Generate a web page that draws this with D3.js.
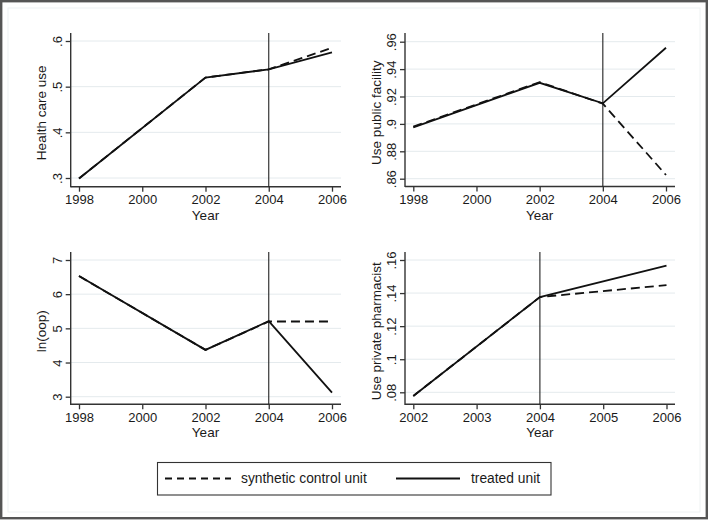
<!DOCTYPE html>
<html>
<head>
<meta charset="utf-8">
<script src="https://cdn.jsdelivr.net/npm/d3@7"></script>
<style>
  body { margin: 0; background: #fff; }
  svg { display: block; font-family: "Liberation Sans", Arial, sans-serif; }
</style>
</head>
<body>
<svg id="chart" width="709" height="521"></svg>
<script>
// data
var yearsA = [1998, 2002, 2004, 2006];
var yearsB = [2002, 2004, 2006];
var xTicksA = [1998, 2000, 2002, 2004, 2006];
var xTicksB = [2002, 2003, 2004, 2005, 2006];

var healthTreated = [0.299, 0.520, 0.538, 0.575];
var healthSynth   = [0.299, 0.520, 0.538, 0.585];
var publicTreated = [0.8975, 0.930, 0.915, 0.9556];
var publicSynth   = [0.8980, 0.9305, 0.9148, 0.8627];
var oopTreated    = [6.53, 4.37, 5.21, 3.12];
var oopSynth      = [6.53, 4.37, 5.20, 5.20];
var pharmTreated  = [0.0778, 0.1376, 0.1566];
var pharmSynth    = [0.0778, 0.1376, 0.1448];

var yTicks1 = [0.3, 0.4, 0.5, 0.6];
var yTicks2 = [0.86, 0.88, 0.90, 0.92, 0.94, 0.96];
var yTicks3 = [3, 4, 5, 6, 7];
var yTicks4 = [0.08, 0.10, 0.12, 0.14, 0.16];

var TREAT_YEAR = 2004;

var svg = d3.select("#chart");

// outer frame
svg.append("rect").attr("x", 8).attr("y", 8).attr("width", 692).attr("height", 504)
    .attr("fill", "none").attr("stroke", "#eef2f3").attr("stroke-width", 1);
svg.append("rect").attr("x", 1.2).attr("y", 1.2).attr("width", 705.6).attr("height", 517)
    .attr("fill", "none").attr("stroke", "#555").attr("stroke-width", 2.4);

function fmt(v) {
    var s = d3.format("~g")(+v.toFixed(3));
    return s.replace(/^0\./, ".");
}

var panels = [
    { left: 70.7, top: 33, right: 341, bottom: 186.7, xr: [79, 332], yr: [178, 41],
      years: yearsA, xticks: xTicksA, yticks: yTicks1, treated: healthTreated, synth: healthSynth,
      label: "Health care use" },
    { left: 405, top: 33, right: 675, bottom: 186.5, xr: [413.3, 666], yr: [178.7, 41.7],
      years: yearsA, xticks: xTicksA, yticks: yTicks2, treated: publicTreated, synth: publicSynth,
      label: "Use public facility" },
    { left: 70.7, top: 252, right: 341, bottom: 404.3, xr: [79, 332], yr: [396.7, 260],
      years: yearsA, xticks: xTicksA, yticks: yTicks3, treated: oopTreated, synth: oopSynth,
      label: "ln(oop)" },
    { left: 405, top: 252, right: 675, bottom: 404.3, xr: [413.3, 666.5], yr: [392.3, 260],
      years: yearsB, xticks: xTicksB, yticks: yTicks4, treated: pharmTreated, synth: pharmSynth,
      label: "Use private pharmacist" }
];

panels.forEach(function(p) {
    var g = svg.append("g");
    var x = d3.scaleLinear()
        .domain(d3.extent(p.xticks))
        .range(p.xr);
    var y = d3.scaleLinear()
        .domain(d3.extent(p.yticks))
        .range(p.yr);

    // grid
    g.selectAll(".grid").data(p.yticks).enter().append("line")
        .attr("x1", p.left).attr("x2", p.right)
        .attr("y1", function(d) { return y(d); })
        .attr("y2", function(d) { return y(d); })
        .attr("stroke", "#e4eaed").attr("stroke-width", 1);

    // axes
    var ya = g.append("g").attr("transform", "translate(" + p.left + ",0)")
        .call(d3.axisLeft(y).tickValues(p.yticks).tickSize(5).tickSizeOuter(0).tickFormat(fmt));
    ya.select(".domain").remove();
    ya.selectAll(".tick line").attr("stroke", "#333").attr("stroke-width", 1.3);
    ya.selectAll(".tick text")
        .attr("x", 0).attr("y", 0).attr("dy", 0)
        .attr("transform", "translate(-13.5,0) rotate(-90)")
        .attr("text-anchor", "middle")
        .attr("dominant-baseline", "central")
        .attr("font-size", 13).attr("fill", "#1a1a1a")
        .style("font-family", "Liberation Sans, Arial, sans-serif");

    var xa = g.append("g").attr("transform", "translate(0," + p.bottom + ")")
        .call(d3.axisBottom(x).tickValues(p.xticks).tickSize(5).tickSizeOuter(0).tickFormat(d3.format("d")));
    xa.select(".domain").remove();
    xa.selectAll(".tick line").attr("stroke", "#333").attr("stroke-width", 1.3);
    xa.selectAll(".tick text")
        .attr("y", 8).attr("dy", "0.71em")
        .attr("font-size", 13).attr("fill", "#1a1a1a")
        .style("font-family", "Liberation Sans, Arial, sans-serif");

    g.append("line").attr("x1", p.left).attr("x2", p.left).attr("y1", p.top).attr("y2", p.bottom + 0.6)
        .attr("stroke", "#333").attr("stroke-width", 1.4);
    g.append("line").attr("x1", p.left).attr("x2", p.right).attr("y1", p.bottom).attr("y2", p.bottom)
        .attr("stroke", "#333").attr("stroke-width", 1.4);

    // treatment line
    g.append("line").attr("x1", x(TREAT_YEAR)).attr("x2", x(TREAT_YEAR))
        .attr("y1", p.top).attr("y2", p.bottom)
        .attr("stroke", "#222").attr("stroke-width", 1.1);

    var line = d3.line()
        .x(function(d, i) { return x(p.years[i]); })
        .y(function(d) { return y(d); });

    g.append("path").datum(p.treated).attr("d", line)
        .attr("fill", "none").attr("stroke", "#111").attr("stroke-width", 1.8);
    g.append("path").datum(p.synth).attr("d", line)
        .attr("fill", "none").attr("stroke", "#111").attr("stroke-width", 1.8)
        .attr("stroke-dasharray", "9,5");

    // titles
    g.append("text")
        .attr("transform", "translate(" + (p.left - 29) + "," + ((p.top + p.bottom) / 2 + 3) + ") rotate(-90)")
        .attr("text-anchor", "middle").attr("dominant-baseline", "central")
        .attr("font-size", 13.5).attr("fill", "#1a1a1a")
        .text(p.label);
    g.append("text")
        .attr("x", (p.xr[0] + p.xr[1]) / 2).attr("y", p.bottom + 33)
        .attr("text-anchor", "middle")
        .attr("font-size", 13.5).attr("fill", "#1a1a1a")
        .text("Year");
});

// legend
var leg = svg.append("g");
leg.append("rect").attr("x", 157.5).attr("y", 462.5).attr("width", 393.5).attr("height", 32.5)
    .attr("fill", "#fff").attr("stroke", "#333").attr("stroke-width", 1.1);
leg.append("line").attr("x1", 165).attr("x2", 231).attr("y1", 478.5).attr("y2", 478.5)
    .attr("stroke", "#111").attr("stroke-width", 1.8).attr("stroke-dasharray", "7,5");
leg.append("text").attr("x", 241).attr("y", 478.5).attr("dominant-baseline", "central")
    .attr("font-size", 13.8).attr("fill", "#1a1a1a").text("synthetic control unit");
leg.append("line").attr("x1", 396).attr("x2", 460).attr("y1", 478.5).attr("y2", 478.5)
    .attr("stroke", "#111").attr("stroke-width", 1.8);
leg.append("text").attr("x", 471).attr("y", 478.5).attr("dominant-baseline", "central")
    .attr("font-size", 13.8).attr("fill", "#1a1a1a").text("treated unit");
</script>
</body>
</html>
